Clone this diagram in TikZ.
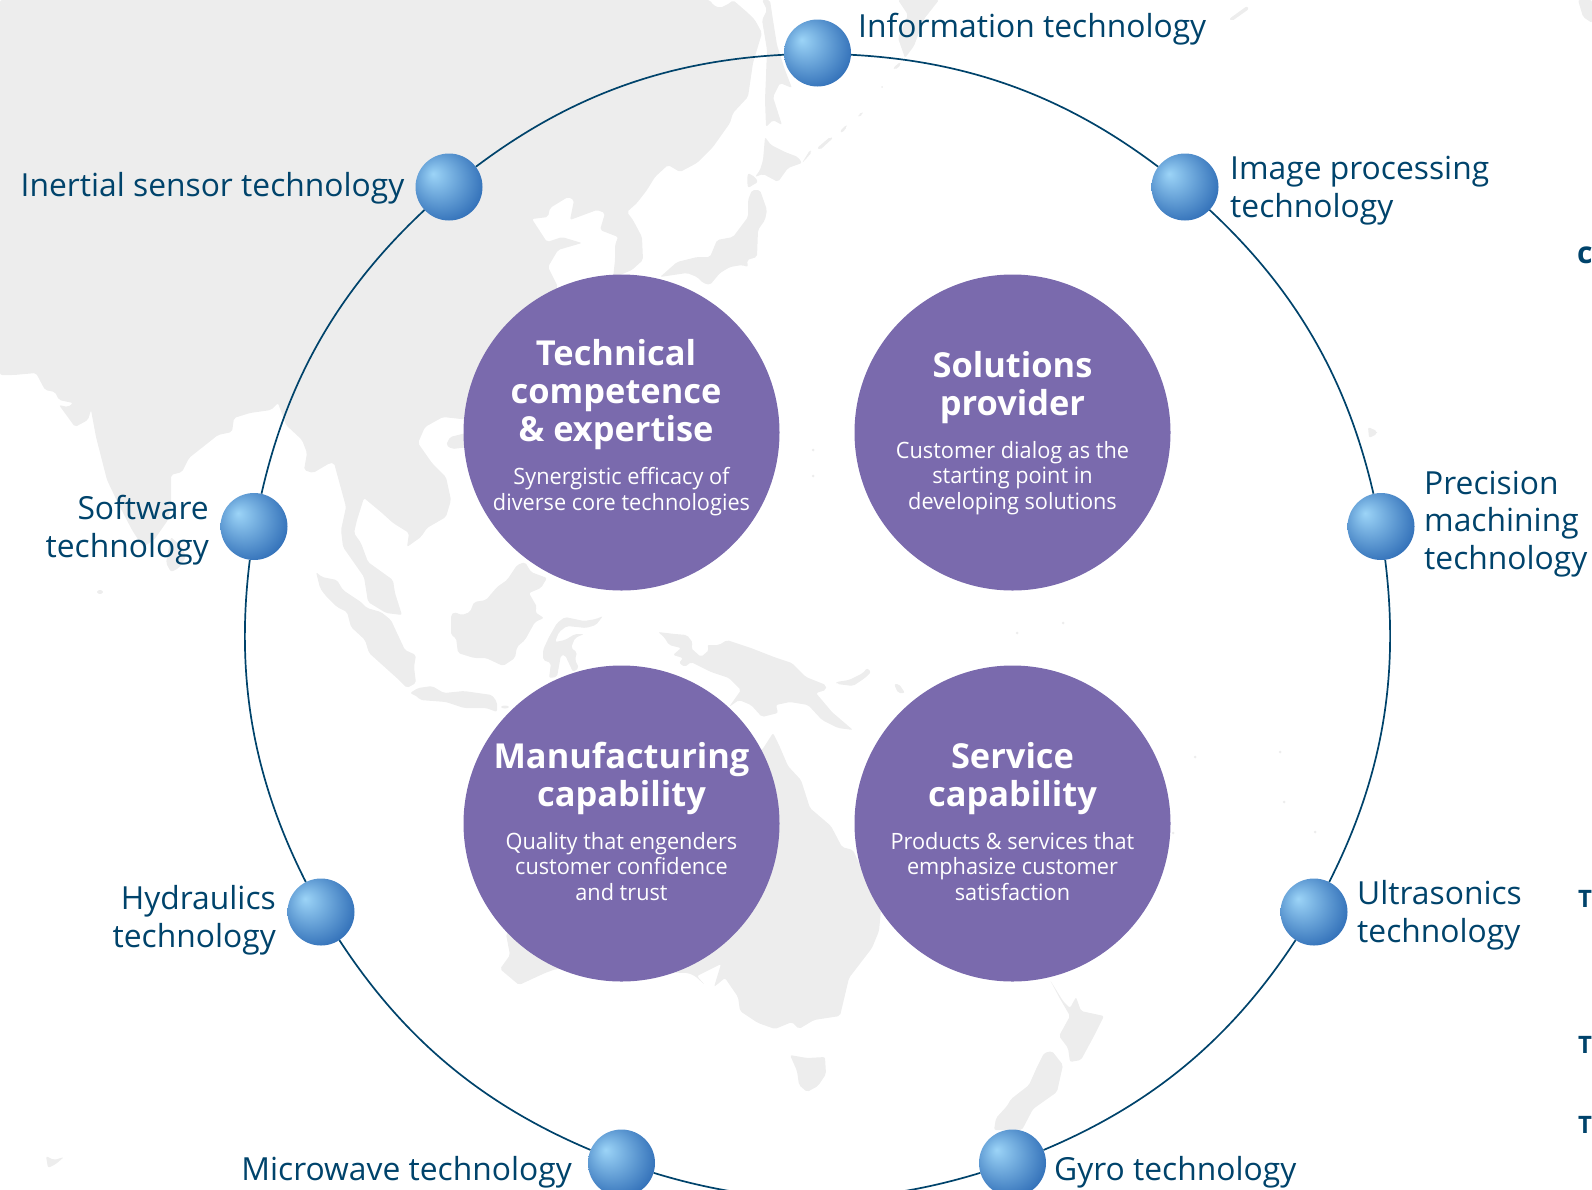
\documentclass[tikz,border=0pt]{standalone}
\usepackage{fontspec}
\setmainfont{Open Sans}
\newfontfamily\lblfont{Open Sans}
\newfontfamily\subfont[FakeStretch=0.965]{Open Sans}
\newfontfamily\ttlfont{Open Sans}[BoldFont={Open Sans Bold}]
\definecolor{navy}{HTML}{00436B}
\definecolor{purp}{HTML}{7A6AAD}
\definecolor{landc}{HTML}{EDEDED}
\definecolor{hl}{HTML}{9CD4F7}
\definecolor{dk}{HTML}{3371B9}
\pgfdeclareradialshading{sph}{\pgfpoint{-12bp}{10bp}}{color(0bp)=(hl);color(31bp)=(dk);color(50bp)=(dk)}
\tikzset{
  land/.style={fill=landc,rounded corners=2pt},
  sphere/.style={circle,inner sep=0pt,minimum size=67pt,shading=sph},
  ring/.style={draw=navy,line width=1.7pt,looseness=0.92},
  core/.style={circle,inner sep=0pt,minimum size=316pt,fill=purp},
  lbl/.style={inner sep=0pt,text=navy,font=\lblfont\fontsize{31.8}{37.7}\selectfont},
  ttl/.style={inner sep=0pt,text=white,align=center,font=\ttlfont\bfseries\fontsize{34.4}{38}\selectfont},
  sub/.style={inner sep=0pt,text=white,align=center,font=\subfont\fontsize{22.5}{25.4}\selectfont},
  cut/.style={inner sep=0pt,text=navy,font=\bfseries\fontsize{24}{24}\selectfont},
}
\begin{document}
\begin{tikzpicture}[x=1pt,y=-1pt]
\useasboundingbox (0,0) rectangle (1592,1189);
% --- map ---
\fill[land] (0,0) -- (710,0) -- (713,5) -- (720,8) -- (730,3) -- (733,0) -- (748,13) -- (755,20) -- (762,33) -- (753,63) -- (748,97) -- (733,113) -- (730,123) -- (713,147) -- (697,163) -- (680,172) -- (668,165) -- (655,177) -- (647,190) -- (637,203) -- (627,212) -- (633,220) -- (642,237) -- (643,260) -- (632,270) -- (613,278) -- (615,260) -- (615,245) -- (618,237) -- (600,230) -- (605,213) -- (597,210) -- (570,220) -- (574,200) -- (568,197) -- (550,208) -- (548,217) -- (532,219) -- (547,242) -- (562,237) -- (582,243) -- (558,250) -- (548,267) -- (558,287) -- (500,360) -- (470,420) -- (443,417) -- (425,427) -- (418,443) -- (432,463) -- (446,477) -- (451,500) -- (446,517) -- (427,528) -- (421,537) -- (407,547) -- (409,533) -- (393,523) -- (382,513) -- (364,498) -- (357,520) -- (354,533) -- (361,543) -- (368,562) -- (393,580) -- (395,593) -- (402,615) -- (386,613) -- (368,602) -- (364,577) -- (343,547) -- (341,530) -- (346,507) -- (334,463) -- (330,463) -- (313,473) -- (304,470) -- (307,453) -- (302,440) -- (286,425) -- (278,403) -- (271,410) -- (250,413) -- (234,418) -- (232,432) -- (218,435) -- (189,458) -- (182,472) -- (171,475) -- (171,507) -- (168,520) -- (154,540) -- (143,547) -- (132,530) -- (118,503) -- (107,480) -- (96,437) -- (91,410) -- (88,420) -- (75,427) -- (59,405) -- (68,407) -- (73,403) -- (59,400) -- (55,392) -- (45,390) -- (36,373) -- (14,375) -- (0,375) -- cycle;
% Hainan, Sri Lanka, Maldives
\fill[land] (470,432) -- (450,437) -- (446,445) -- (452,449) -- (470,447) -- cycle;
\fill[land] (171,537) -- (182,547) -- (186,557) -- (179,568) -- (171,572) -- (166,563) -- (169,547) -- cycle;
\fill[landc] (100,592) ellipse (3pt and 2pt);
% Sakhalin, Kamchatka side
\fill[land] (762,0) -- (770,0) -- (773,20) -- (777,45) -- (785,70) -- (792,88) -- (780,83) -- (773,97) -- (782,125) -- (773,120) -- (766,127) -- (765,100) -- (767,50) -- (762,20) -- (767,10) -- cycle;
\fill[land] (898,0) -- (939,0) -- (924,19) -- (914,46) -- (905,58) -- (898,38) -- (908,15) -- cycle;
\fill[land] (893,68) -- (900,62) -- (901,65) -- (895,70) -- cycle;
\fill[land] (1229,19) -- (1247,6) -- (1249,9) -- (1232,21) -- cycle;
\fill[land] (1578,0) -- (1592,0) -- (1592,23) -- (1583,17) -- cycle;
% Japan
\fill[land] (765,137) -- (771,145) -- (785,152) -- (798,157) -- (802,163) -- (788,168) -- (778,182) -- (763,174) -- (755,177) -- (760,170) -- (763,160) -- cycle;
\fill[land] (748,173) -- (755,177) -- (758,182) -- (748,188) -- (747,180) -- cycle;
\fill[land] (752,190) -- (760,190) -- (767,210) -- (765,220) -- (758,230) -- (757,257) -- (747,260) -- (748,267) -- (742,265) -- (730,267) -- (720,273) -- (710,285) -- (703,283) -- (697,277) -- (687,273) -- (660,277) -- (677,262) -- (697,257) -- (710,257) -- (717,240) -- (733,237) -- (748,217) -- (748,200) -- cycle;
% Kuril streaks
\fill[land] (802,163) -- (810,150) -- (812,152) -- (805,160) -- cycle;
\fill[land] (817,148) -- (830,137) -- (833,138) -- (820,150) -- cycle;
\fill[land] (840,131) -- (846,125) -- (847,127) -- (842,133) -- cycle;
\fill[land] (858,115) -- (862,112) -- (863,114) -- (859,117) -- cycle;
\fill[landc] (882,87) circle (1pt);
% Sumatra
\fill[land] (316,572) -- (322,577) -- (337,580) -- (343,590) -- (361,602) -- (367,608) -- (381,612) -- (391,620) -- (397,633) -- (405,650) -- (416,655) -- (414,667) -- (416,683) -- (407,688) -- (399,680) -- (369,653) -- (365,640) -- (351,627) -- (347,612) -- (337,607) -- (325,595) -- (320,588) -- cycle;
% Java, Bali
\fill[land] (410,693) -- (418,688) -- (432,686) -- (444,693) -- (464,691) -- (492,695) -- (497,702) -- (497,712) -- (486,708) -- (464,708) -- (446,702) -- (420,700) -- (418,697) -- cycle;
\fill[landc] (505,707) ellipse (4pt and 1.5pt);
% Borneo
\fill[land] (525,562) -- (531,572) -- (547,578) -- (541,588) -- (529,593) -- (537,607) -- (535,612) -- (544,618) -- (535,622) -- (525,640) -- (517,647) -- (515,658) -- (503,666) -- (486,658) -- (474,658) -- (458,653) -- (456,638) -- (451,635) -- (451,615) -- (454,612) -- (462,615) -- (470,612) -- (474,602) -- (486,600) -- (497,587) -- (507,580) -- (517,565) -- cycle;
% Sulawesi
\fill[land] (565,617) -- (584,621) -- (596,619) -- (603,616) -- (596,625) -- (586,628) -- (567,626) -- (559,632) -- (555,642) -- (565,640) -- (575,634) -- (584,634) -- (575,638) -- (571,648) -- (577,652) -- (575,660) -- (579,668) -- (573,672) -- (565,655) -- (561,655) -- (557,677) -- (549,678) -- (551,663) -- (543,660) -- (543,650) -- (549,637) -- (557,623) -- cycle;
% New Guinea and islands
\fill[land] (658,632) -- (675,634) -- (687,635) -- (693,643) -- (691,648) -- (701,657) -- (709,650) -- (707,645) -- (719,645) -- (727,640) -- (751,648) -- (774,657) -- (792,663) -- (806,677) -- (826,685) -- (826,690) -- (816,693) -- (832,712) -- (853,730) -- (838,728) -- (822,720) -- (808,705) -- (790,702) -- (776,705) -- (778,713) -- (762,717) -- (751,705) -- (739,700) -- (729,707) -- (741,690) -- (729,678) -- (711,672) -- (691,662) -- (685,667) -- (679,663) -- (683,658) -- (673,655) -- (681,648) -- (669,645) -- (664,637) -- cycle;
\fill[land] (836,682) -- (849,680) -- (863,673) -- (867,668) -- (871,672) -- (865,678) -- (853,686) -- (837,684) -- cycle;
\fill[land] (894,684) -- (899,684) -- (905,693) -- (898,693) -- cycle;
% Australia, Tasmania
\fill[land] (773,733) -- (779,745) -- (788,766) -- (801,780) -- (810,808) -- (831,826) -- (842,847) -- (853,850) -- (866,878) -- (881,910) -- (879,931) -- (872,948) -- (849,978) -- (840,1016) -- (814,1020) -- (799,1029) -- (792,1022) -- (775,1029) -- (758,1023) -- (740,1011) -- (738,997) -- (725,978) -- (714,987) -- (721,964) -- (697,976) -- (705,985) -- (695,976) -- (688,973) -- (556,969) -- (545,973) -- (519,985) -- (500,969) -- (510,955) -- (506,934) -- (620,800) -- (762,750) -- cycle;
\fill[land] (790,1055) -- (807,1058) -- (825,1057) -- (826,1074) -- (818,1086) -- (807,1092) -- (799,1085) -- (797,1071) -- cycle;
% New Zealand
\fill[land] (1050,980) -- (1063,1001) -- (1070,1008) -- (1076,997) -- (1081,1011) -- (1104,1016) -- (1094,1036) -- (1081,1060) -- (1070,1062) -- (1068,1048) -- (1059,1036) -- (1070,1016) -- (1059,997) -- cycle;
\fill[land] (1044,1053) -- (1052,1051) -- (1063,1065) -- (1057,1092) -- (1033,1109) -- (1022,1130) -- (994,1130) -- (996,1118) -- (1007,1106) -- (1011,1099) -- (1029,1085) -- (1037,1067) -- cycle;
% small specks
\fill[land] (46,1156) -- (54,1160) -- (64,1157) -- (56,1164) -- (48,1168) -- cycle;
\fill[land] (1368,427) -- (1377,431) -- (1377,434) -- (1369,438) -- cycle;
\foreach \px/\py in {813/450,813/476,1017/633,1063/623,1195/757,1280/752,1284/802,1315/832,1173/833}
  \fill[landc] (\px,\py) circle (1.5pt);
% --- spheres ---
\node[sphere] (info)  at (817.5,53) {};
\node[sphere] (image) at (1185,187) {};
\node[sphere] (prec)  at (1381,526.5) {};
\node[sphere] (ultra) at (1314,912) {};
\node[sphere] (gyro)  at (1012.5,1163) {};
\node[sphere] (micro) at (621.5,1163) {};
\node[sphere] (hydr)  at (321,912) {};
\node[sphere] (soft)  at (254,526.5) {};
\node[sphere] (iner)  at (449,187) {};
% --- ring ---
\draw[ring] (info) to[bend left=17] (image);
\draw[ring] (image) to[bend left=17] (prec);
\draw[ring] (prec) to[bend left=17] (ultra);
\draw[ring] (ultra) to[bend left=17] (gyro);
\draw[ring] (gyro) to[bend left=17] (micro);
\draw[ring] (micro) to[bend left=17] (hydr);
\draw[ring] (hydr) to[bend left=17] (soft);
\draw[ring] (soft) to[bend left=17] (iner);
\draw[ring] (iner) to[bend left=17] (info);
% --- labels ---
\node[lbl,anchor=base west] (linfo) at (858,37.5) {Information technology};
\node[lbl,anchor=base west,align=left] (limage) at (1230,217.5) {Image processing\\technology};
\node[lbl,anchor=base west,align=left] (lprec) at (1424,569.5) {Precision\\machining\\technology};
\node[lbl,anchor=base west,align=left] (lultra) at (1357,942.5) {Ultrasonics\\technology};
\node[lbl,anchor=base west] (lgyro) at (1054,1180.5) {Gyro technology};
\node[lbl,anchor=base east] (lmicro) at (572,1180.5) {Microwave technology};
\node[lbl,anchor=base east,align=right] (lhydr) at (276,947.5) {Hydraulics\\technology};
\node[lbl,anchor=base east,align=right] (lsoft) at (209,557) {Software\\technology};
\node[lbl,anchor=base east] (liner) at (404.6,196.3) {Inertial sensor technology};
% --- core circles ---
\node[core] (tc) at (621.5,432.5) {};
\node[core] (sp) at (1012.5,432.5) {};
\node[core] (mc) at (621.5,823.5) {};
\node[core] (sc) at (1012.5,823.5) {};
\node[ttl,anchor=base] (tct) at (616,441.7) {Technical\\competence\\\& expertise};
\node[sub,anchor=base] (tcs) at (621.5,510) {Synergistic efficacy of\\diverse core technologies};
\node[ttl,anchor=base] (spt) at (1012.5,415.7) {Solutions\\provider};
\node[sub,anchor=base] (sps) at (1012.5,509.3) {Customer dialog as the\\starting point in\\developing solutions};
\node[ttl,anchor=base] (mct) at (621.5,806.7) {Manufacturing\\capability};
\node[sub,anchor=base] (mcs) at (621.5,900.3) {Quality that engenders\\customer confidence\\and trust};
\node[ttl,anchor=base] (sct) at (1012.5,806.7) {Service\\capability};
\node[sub,anchor=base] (scs) at (1012.5,900.3) {Products \& services that\\emphasize customer\\satisfaction};
% --- letters cut off at the right edge ---
\node[cut,anchor=base west,font=\bfseries\fontsize{30}{30}\selectfont] (c1) at (1577,263) {c};
\node[cut,anchor=base west] (t1) at (1578,907) {T};
\node[cut,anchor=base west] (t2) at (1578,1053) {T};
\node[cut,anchor=base west] (t3) at (1578,1133) {T};
\end{tikzpicture}
\end{document}
